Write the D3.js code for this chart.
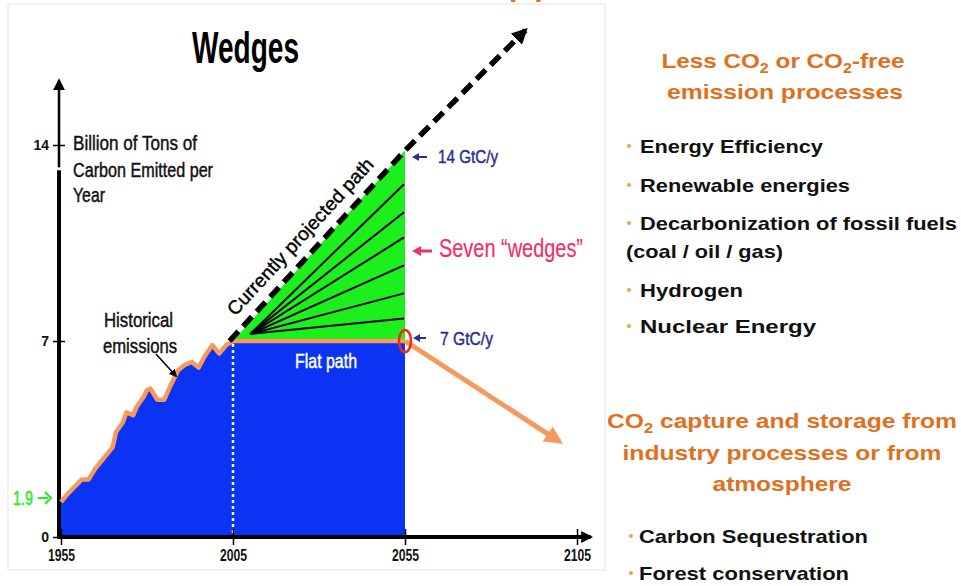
<!DOCTYPE html>
<html>
<head>
<meta charset="UTF-8">
<script src="https://cdn.jsdelivr.net/npm/d3@7"></script>
<style>
  body { margin: 0; background: #fff; }
  svg { display: block; }
</style>
</head>
<body>
<script>
// historical emissions (GtC/y)
var histYears  = [1955, 1957, 1959, 1961, 1963, 1965, 1967, 1969, 1970, 1971, 1973, 1974, 1976, 1977, 1979, 1980, 1981, 1983, 1985, 1987, 1989, 1991, 1993, 1995, 1997, 1999, 2001, 2003, 2005];
var histValues = [1.25, 1.55, 1.8, 2.05, 2.05, 2.45, 2.75, 3.05, 3.2, 3.75, 4.1, 4.45, 4.35, 4.65, 5.0, 5.25, 5.3, 4.9, 4.9, 5.45, 5.95, 6.15, 6.25, 6.05, 6.5, 6.85, 6.55, 6.85, 7.0];

// paths into the future
var projYears  = [2004, 2055, 2090];
var projValues = [7, 13.8, 18.1];
var flatYears  = [2005, 2055];
var flatValues = [7, 7];
var declineYears  = [2055, 2100];
var declineValues = [7, 3.4];

// wedge boundaries at 2055
var wedgeStart = [2010, 7.25];
var wedgeEnds  = [12.6, 11.6, 10.7, 9.7, 8.7, 7.8];

var xTicks = [1955, 2005, 2055, 2105];
var yTicks = [0, 7, 14];

var topItems    = ["Energy Efficiency", "Renewable energies", "Decarbonization of fossil fuels", "Hydrogen", "Nuclear Energy"];
var bottomItems = ["Carbon Sequestration", "Forest conservation"];

var arial = "'Liberation Sans', Arial, sans-serif";

var svg = d3.select("body").append("svg").attr("width", 961).attr("height", 586);

var x = d3.scaleLinear().domain([1955, 2105]).range([61, 577]);
var y = d3.scaleLinear().domain([0, 14]).range([537, 145]);

var defs = svg.append("defs");
function marker(id, color, w, h) {
  defs.append("marker").attr("id", id)
    .attr("viewBox", "0 0 10 10").attr("refX", 8).attr("refY", 5)
    .attr("markerWidth", w).attr("markerHeight", h)
    .attr("markerUnits", "userSpaceOnUse").attr("orient", "auto")
    .append("path").attr("d", "M0,0L10,5L0,10Z").attr("fill", color);
}
marker("arBlack", "#000", 16, 16);
marker("arAxis", "#000", 12, 12);
marker("arOrange", "#f6995c", 20, 18);
marker("arSmall", "#000", 8, 8);

// cut-off slide title above the frame
svg.append("text").attr("x", 509).attr("y", -4).attr("font-family", arial)
  .attr("font-weight", "bold").attr("font-size", 30).attr("fill", "#e07020")
  .attr("letter-spacing", 7).text("pp");

// picture frame
svg.append("rect").attr("x", 8).attr("y", 4).attr("width", 597).attr("height", 566)
  .attr("fill", "#fff").attr("stroke", "#e4e4e4");

// condensed label helper (the original uses a narrow face)
function label(tx, ty, txt, size, color, width, weight) {
  var t = svg.append("text").attr("x", tx).attr("y", ty).attr("font-family", arial)
    .attr("font-size", size).attr("fill", color || "#000").attr("font-weight", weight || "normal")
    .attr("stroke", color || "#000").attr("stroke-width", weight ? 0 : 0.45).text(txt);
  if (width) t.attr("textLength", width).attr("lengthAdjust", "spacingAndGlyphs");
  return t;
}

// title
label(192, 63, "Wedges", 45, "#000", 107, "bold");

// blue area: history + flat path
var blueYears = histYears.concat([2055]);
var blueValues = histValues.concat([7]);
svg.append("path")
  .datum(blueYears.map(function (d, i) { return [d, blueValues[i]]; }))
  .attr("fill", "#0b33f4")
  .attr("d", d3.area().x(function (d) { return x(d[0]); }).y0(y(0)).y1(function (d) { return y(d[1]); }));

// green wedge triangle
var greenPts = [[2005, 7], [projYears[1], projValues[1]], [flatYears[1], flatValues[1]]];
svg.append("path").datum(greenPts).attr("fill", "#1cf01c")
  .attr("d", d3.line().x(function (d) { return x(d[0]); }).y(function (d) { return y(d[1]); }).curve(d3.curveLinearClosed));

// wedge lines
svg.selectAll(".wedge").data(wedgeEnds).enter().append("line")
  .attr("x1", x(wedgeStart[0])).attr("y1", y(wedgeStart[1]))
  .attr("x2", x(2055) - 1).attr("y2", function (d) { return y(d); })
  .attr("stroke", "#000").attr("stroke-width", 2);

// white dotted line at 2005
svg.append("line").attr("x1", x(2005)).attr("x2", x(2005)).attr("y1", y(7) + 3).attr("y2", y(0) + 6)
  .attr("stroke", "#fdf6b0").attr("stroke-width", 2.5).attr("stroke-dasharray", "3,3");

// axes
var xAxis = svg.append("g").attr("transform", "translate(0," + y(0) + ")")
  .call(d3.axisBottom(x).tickValues(xTicks).tickSize(8).tickFormat(d3.format("d")));
xAxis.select(".domain").remove();
xAxis.selectAll(".tick line").attr("y1", -8).attr("stroke-width", 1.5);
xAxis.selectAll(".tick text").attr("y", 24).attr("dy", 0).attr("font-family", arial)
  .attr("font-size", 16).attr("font-weight", "bold").attr("fill", "#111")
  .attr("textLength", 27).attr("lengthAdjust", "spacingAndGlyphs");

var yAxis = svg.append("g").attr("transform", "translate(" + (x(1955) - 2) + ",0)")
  .call(d3.axisLeft(y).tickValues(yTicks).tickSize(6));
yAxis.select(".domain").remove();
yAxis.selectAll(".tick line").attr("x2", 6).attr("x1", -6).attr("stroke-width", 1.5);
yAxis.selectAll(".tick text").attr("x", -10).attr("font-family", arial)
  .attr("font-size", 14).attr("font-weight", "bold").attr("fill", "#111");

svg.append("line").attr("x1", x(1955) - 4).attr("x2", x(2109)).attr("y1", y(0)).attr("y2", y(0))
  .attr("stroke", "#000").attr("stroke-width", 4).attr("marker-end", "url(#arAxis)");
svg.append("line").attr("x1", x(1955) - 2).attr("x2", x(1955) - 2).attr("y1", y(0) + 2).attr("y2", y(13.1))
  .attr("stroke", "#000").attr("stroke-width", 4);
svg.append("line").attr("x1", x(1955) - 2).attr("x2", x(1955) - 2).attr("y1", y(13.2)).attr("y2", y(16.3))
  .attr("stroke", "#000").attr("stroke-width", 2.5).attr("marker-end", "url(#arAxis)");

// historical + flat orange line
var lineGen = d3.line().x(function (d) { return x(d[0]); }).y(function (d) { return y(d[1]); });
svg.append("path").datum(histYears.map(function (d, i) { return [d, histValues[i]]; }))
  .attr("fill", "none").attr("stroke", "#f6995c").attr("stroke-width", 4.5).attr("stroke-linejoin", "round")
  .attr("d", lineGen);
svg.append("path").datum(flatYears.map(function (d, i) { return [d, flatValues[i]]; }))
  .attr("fill", "none").attr("stroke", "#f6995c").attr("stroke-width", 4.5).attr("d", lineGen);
svg.append("path").datum(declineYears.map(function (d, i) { return [d, declineValues[i]]; }))
  .attr("fill", "none").attr("stroke", "#f6995c").attr("stroke-width", 5)
  .attr("marker-end", "url(#arOrange)").attr("d", lineGen);

// projected dashed path
svg.append("path").datum(projYears.map(function (d, i) { return [d, projValues[i]]; }))
  .attr("fill", "none").attr("stroke", "#000").attr("stroke-width", 5.5).attr("stroke-dasharray", "13,7")
  .attr("marker-end", "url(#arBlack)").attr("d", lineGen);

// red circle at 2055
svg.append("ellipse").attr("cx", x(2055)).attr("cy", y(7)).attr("rx", 6).attr("ry", 11)
  .attr("fill", "none").attr("stroke", "#f02a12").attr("stroke-width", 2.5);

// chart labels
label(73, 150, "Billion of Tons of", 20, "#111", 124);
label(73, 177, "Carbon Emitted per", 20, "#111", 140);
label(73, 202, "Year", 20, "#111", 32);
label(104, 327, "Historical", 20, "#111", 69);
label(103, 353, "emissions", 20, "#111", 74);
svg.append("line").attr("x1", 156).attr("y1", 354).attr("x2", 176).attr("y2", 376)
  .attr("stroke", "#000").attr("stroke-width", 1.5).attr("marker-end", "url(#arSmall)");

var pa = Math.atan2(y(projValues[1]) - y(projValues[0]), x(projYears[1]) - x(projYears[0])) * 180 / Math.PI;
svg.append("text").attr("transform", "translate(305,241) rotate(" + pa + ")")
  .attr("text-anchor", "middle").attr("font-family", arial).attr("font-size", 19).attr("fill", "#000")
  .attr("stroke", "#000").attr("stroke-width", 0.4)
  .attr("textLength", 206).attr("lengthAdjust", "spacingAndGlyphs")
  .text("Currently projected path");

label(295, 368, "Flat path", 20, "#fff", 62);
label(13, 505, "1.9", 20, "#22ee22", 20);

function leftArrow(x1, x2, yy, color, w) {
  svg.append("path").attr("d", "M" + x2 + "," + yy + "H" + (x1 + 3))
    .attr("stroke", color).attr("stroke-width", w).attr("fill", "none");
  svg.append("path").attr("d", "M" + x1 + "," + yy + "l" + (w * 2 + 3) + "," + (-(w + 2)) + "v" + (2 * w + 4) + "Z")
    .attr("fill", color);
}
function rightArrow(x1, x2, yy, color, w) {
  svg.append("path").attr("d", "M" + x1 + "," + yy + "H" + (x2 - 3))
    .attr("stroke", color).attr("stroke-width", w).attr("fill", "none");
  svg.append("path").attr("d", "M" + (x2 - 6) + "," + (yy - 6) + "L" + x2 + "," + yy + "L" + (x2 - 6) + "," + (yy + 6))
    .attr("stroke", color).attr("stroke-width", w).attr("fill", "none");
}
rightArrow(38, 51, 498, "#22ee22", 2);
leftArrow(412, 427, 157, "#2b2f8f", 2);
label(438, 163, "14 GtC/y", 19, "#2b2f8f", 60);
leftArrow(412, 432, 251, "#f0306a", 3);
label(439, 257, "Seven \u201cwedges\u201d", 25, "#f0306a", 144).attr("stroke-width", 0.2);
leftArrow(413, 426, 338, "#2b2f8f", 2);
label(440, 345, "7 GtC/y", 19, "#2b2f8f", 53);

// right-hand text, stretched like the original slide
function co2Line(cx, cy, parts, width) {
  var t = svg.append("text").attr("x", cx - width / 2).attr("y", cy)
    .attr("font-family", arial).attr("font-weight", "bold").attr("font-size", 21).attr("fill", "#e07020")
    .attr("textLength", width).attr("lengthAdjust", "spacingAndGlyphs");
  var shift = 0;
  parts.forEach(function (p) {
    if (p === "2") {
      t.append("tspan").attr("font-size", 14).attr("dy", 5).text("2");
      shift = -5;
    } else {
      t.append("tspan").attr("dy", shift).text(p);
      shift = 0;
    }
  });
}
co2Line(783, 68, ["Less CO", "2", " or CO", "2", "-free"], 243);
co2Line(785, 99, ["emission processes"], 236);
co2Line(782, 428, ["CO", "2", " capture and storage from"], 350);
co2Line(782, 460, ["industry processes or from"], 319);
co2Line(782, 491, ["atmosphere"], 139);

function item(tx, ty, txt, width) {
  svg.append("text").attr("x", tx).attr("y", ty).attr("font-family", arial)
    .attr("font-weight", "bold").attr("font-size", 19).attr("fill", "#111")
    .attr("textLength", width).attr("lengthAdjust", "spacingAndGlyphs").text(txt);
}
var topY = [153, 192, 230, 297, 333];
var topW = [183, 210, 317, 103, 176];
topItems.forEach(function (d, i) {
  svg.append("circle").attr("cx", 629).attr("cy", topY[i] - 7).attr("r", 2).attr("fill", "#f6a040");
  item(640, topY[i], d, topW[i]);
});
item(626, 258, "(coal / oil / gas)", 157);
var botY = [543, 580];
var botW = [229, 210];
bottomItems.forEach(function (d, i) {
  svg.append("circle").attr("cx", 631).attr("cy", botY[i] - 7).attr("r", 2).attr("fill", "#f6a040");
  item(639, botY[i], d, botW[i]);
});
</script>
</body>
</html>
